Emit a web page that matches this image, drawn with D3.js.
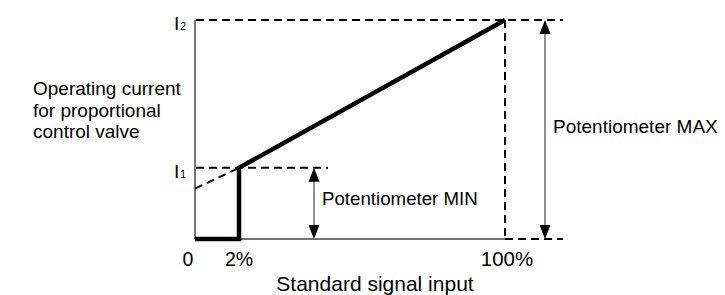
<!DOCTYPE html>
<html><head><meta charset="utf-8">
<script src="https://cdn.jsdelivr.net/npm/d3@7"></script>
<style>
html,body{margin:0;padding:0;background:#fff;}
svg{display:block;}
text{font-family:"Liberation Sans",Arial,Helvetica,sans-serif;fill:#000;}
</style></head>
<body>
<script>
// ---- data ----
const tickValues = [0, 2, 100];
const tickLabels = ["0", "2%", "100%"];
const signal = [0, 2, 2, 100];          // % of standard signal input
const current = [0, 0, 0.325, 1];        // operating current (relative, I2 = 1)
const extrapSignal = [0, 2];
const extrapCurrent = [0.23, 0.325];
const levelNames = ["I", "I"];
const levelSubs = ["1", "2"];
const levelValues = [0.325, 1];
const yTitle = ["Operating current", "for proportional", "control valve"];
const xTitle = "Standard signal input";
const minLabel = "Potentiometer MIN";
const maxLabel = "Potentiometer MAX";

const W = 725, H = 295;
const svg = d3.select("body").append("svg").attr("width", W).attr("height", H);

const x = d3.scaleLinear().domain([0, 2, 100]).range([195, 239, 505]);
const y = d3.scaleLinear().domain([0, 1]).range([239, 20]);

const I1 = levelValues[0], I2 = levelValues[1];
const rightEnd = x(100) + 58;
const dash = "8,5";

// axes
svg.append("line").attr("x1", x(0)).attr("x2", x(0)).attr("y1", y(I2)).attr("y2", y(0))
  .attr("stroke", "#555").attr("stroke-width", 1.6);
svg.append("line").attr("x1", x(0)).attr("x2", x(100)).attr("y1", y(0)).attr("y2", y(0))
  .attr("stroke", "#444").attr("stroke-width", 1.6);

// dashed guides
const g = svg.append("g").attr("stroke", "#000").attr("stroke-width", 2).attr("stroke-dasharray", dash).attr("fill", "none");
g.append("line").attr("x1", x(0) + 1).attr("x2", rightEnd).attr("y1", y(I2)).attr("y2", y(I2));
g.append("line").attr("x1", x(0) + 1).attr("x2", x(2) + 89).attr("y1", y(I1)).attr("y2", y(I1));
g.append("line").attr("x1", x(100)).attr("x2", rightEnd).attr("y1", y(0)).attr("y2", y(0));
g.append("line").attr("x1", x(100)).attr("x2", x(100)).attr("y1", y(I2)).attr("y2", y(0));
g.append("path").attr("d", d3.line().x(d => x(d[0])).y(d => y(d[1]))(extrapSignal.map((s, i) => [s, extrapCurrent[i]])));

// main characteristic
svg.append("path")
  .attr("d", d3.line().x(d => x(d[0])).y(d => y(d[1]))(signal.map((s, i) => [s, current[i]])))
  .attr("fill", "none").attr("stroke", "#000").attr("stroke-width", 4.5).attr("stroke-linejoin", "miter");

// double arrows
function dblArrow(xp, v0, v1) {
  const a = svg.append("g");
  a.append("line").attr("x1", xp).attr("x2", xp).attr("y1", y(v0) - 12).attr("y2", y(v1) + 12)
    .attr("stroke", "#555").attr("stroke-width", 1.3);
  a.append("path").attr("d", `M${xp},${y(v1)} l-5.5,14 l11,0 Z`).attr("fill", "#000");
  a.append("path").attr("d", `M${xp},${y(v0)} l-5.5,-14 l11,0 Z`).attr("fill", "#000");
}
dblArrow(x(2) + 75, 0, I1);
dblArrow(x(100) + 40, 0, I2);

// level labels
levelValues.forEach((v, i) => {
  const t = svg.append("text").attr("x", 174).attr("y", y(v) + 10).style("font-size", "19px");
  t.append("tspan").text(levelNames[i]);
  t.append("tspan").text(levelSubs[i]).style("font-size", "10.5px").attr("dx", 1);
});

// tick labels
tickValues.forEach((v, i) => {
  svg.append("text").attr("x", x(v) + (v === 0 ? -7 : 0) + (v === 100 ? 2 : 0)).attr("y", 266)
    .attr("text-anchor", "middle").style("font-size", v === 100 ? "20.5px" : "19.5px").text(tickLabels[i]);
});

// titles
svg.append("text").attr("x", 375).attr("y", 291).attr("text-anchor", "middle").style("font-size", "21px").text(xTitle);
yTitle.forEach((s, i) => {
  svg.append("text").attr("x", 33).attr("y", 95 + i * 21.5).style("font-size", "19px").text(s);
});
svg.append("text").attr("x", x(2) + 83).attr("y", 205).style("font-size", "18.7px").text(minLabel);
svg.append("text").attr("x", x(100) + 48).attr("y", 133).style("font-size", "19px").text(maxLabel);
</script>
</body></html>
